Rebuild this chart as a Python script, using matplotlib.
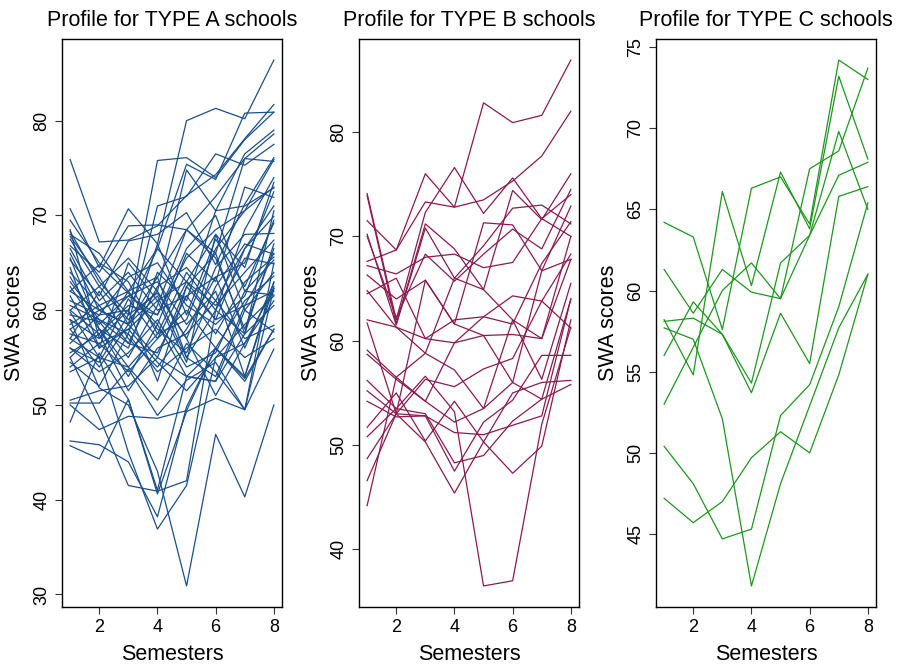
import matplotlib.pyplot as plt
import numpy as np

plt.rcParams['font.family'] = ['Liberation Sans', 'DejaVu Sans']

semesters = [1, 2, 3, 4, 5, 6, 7, 8]

# SWA scores per school (one row = one school, columns = semesters 1..8)
scores_a = [
    [75.9, 67.2, 67.4, 68.9, 72.1, 74.3, 78.1, 81.7],
    [70.7, 64.5, 70.7, 67.0, 80.0, 81.3, 80.2, 86.4],
    [68.3, 63.0, 59.5, 75.8, 76.1, 74.0, 78.0, 80.9],
    [68.0, 66.0, 62.0, 66.5, 75.4, 73.8, 80.8, 80.9],
    [67.5, 62.5, 65.5, 62.0, 74.8, 70.5, 76.5, 79.0],
    [66.8, 64.0, 68.9, 69.0, 68.5, 66.0, 76.0, 78.6],
    [66.0, 60.0, 58.5, 71.0, 72.0, 76.5, 75.3, 77.5],
    [65.3, 61.5, 67.3, 68.0, 70.3, 64.8, 71.2, 76.1],
    [64.0, 60.5, 62.0, 63.5, 68.5, 72.0, 76.0, 75.7],
    [63.5, 58.5, 61.5, 59.5, 65.5, 68.5, 70.5, 75.9],
    [68.5, 57.0, 60.0, 66.5, 63.0, 68.0, 64.5, 73.5],
    [62.5, 58.0, 56.0, 64.0, 61.0, 70.5, 71.0, 72.9],
    [62.0, 64.8, 61.8, 58.5, 66.0, 63.0, 73.0, 71.9],
    [61.5, 56.0, 65.0, 61.0, 63.0, 59.0, 66.5, 69.9],
    [60.5, 59.0, 57.5, 67.0, 59.5, 67.5, 62.5, 69.2],
    [60.0, 62.5, 59.0, 62.0, 57.0, 64.5, 68.0, 68.1],
    [59.8, 55.0, 61.2, 57.0, 63.0, 60.5, 64.0, 67.4],
    [59.5, 58.8, 55.0, 60.5, 68.5, 65.5, 58.0, 66.5],
    [59.0, 57.0, 62.0, 58.0, 55.5, 62.5, 67.0, 65.9],
    [58.5, 60.5, 56.5, 55.5, 61.5, 57.5, 63.0, 65.6],
    [58.0, 54.0, 58.5, 61.5, 55.0, 60.0, 65.5, 64.9],
    [57.5, 56.5, 53.5, 57.0, 60.0, 56.0, 61.0, 63.6],
    [57.0, 62.0, 57.0, 54.0, 58.0, 63.5, 56.0, 62.9],
    [56.5, 59.5, 60.0, 52.5, 62.5, 59.0, 60.5, 62.0],
    [56.0, 53.5, 55.5, 59.0, 54.0, 55.5, 62.0, 61.6],
    [55.5, 57.5, 51.5, 56.0, 57.5, 61.0, 57.0, 58.4],
    [55.0, 58.0, 53.0, 58.5, 53.0, 52.5, 60.0, 57.7],
    [54.5, 52.0, 57.5, 53.5, 56.0, 58.0, 55.0, 57.0],
    [53.5, 55.0, 54.0, 50.5, 56.5, 53.5, 49.5, 55.9],
    [50.5, 51.5, 52.0, 55.0, 53.0, 56.0, 52.5, 58.0],
    [50.2, 50.2, 53.8, 48.9, 52.6, 54.5, 49.5, 62.3],
    [48.2, 55.5, 50.6, 40.6, 49.3, 50.7, 49.5, 65.0],
    [46.2, 45.8, 44.0, 38.2, 49.8, 56.0, 53.0, 62.5],
    [45.7, 44.3, 50.6, 41.0, 53.0, 52.5, 57.5, 67.0],
    [50.0, 47.4, 48.8, 48.6, 49.4, 56.0, 52.8, 58.0],
    [55.0, 48.7, 41.5, 40.9, 42.0, 60.0, 57.5, 60.5],
    [59.0, 51.8, 50.0, 43.0, 30.9, 46.9, 40.3, 50.0],
    [57.0, 55.0, 45.0, 36.9, 41.5, 55.0, 56.5, 61.0],
    [64.5, 56.0, 58.0, 61.0, 54.5, 68.0, 60.0, 64.0],
    [67.8, 63.5, 58.5, 55.0, 62.5, 66.0, 57.5, 70.5],
    [61.0, 59.5, 63.5, 65.0, 60.5, 58.5, 61.5, 69.5],
    [60.0, 57.5, 60.5, 59.5, 66.5, 70.0, 62.0, 65.3],
    [63.0, 59.0, 56.5, 62.5, 64.5, 61.0, 66.5, 71.0],
    [58.0, 60.0, 61.5, 63.0, 58.5, 62.0, 53.0, 63.0],
    [65.5, 58.0, 54.0, 57.5, 59.0, 66.5, 70.5, 73.0],
    [66.5, 61.0, 64.0, 60.0, 61.5, 63.5, 65.0, 72.5],
    [56.0, 54.5, 59.5, 61.8, 57.0, 51.0, 56.5, 62.3],
    [69.5, 65.0, 63.0, 57.5, 64.0, 60.0, 68.5, 74.0],
    [54.0, 56.5, 58.0, 54.5, 51.5, 55.0, 58.5, 61.5],
    [62.0, 60.0, 58.5, 63.5, 55.0, 53.0, 60.5, 66.0],
]

scores_b = [
    [71.5, 68.7, 73.3, 72.8, 82.8, 80.9, 81.6, 86.9],
    [67.6, 68.7, 76.0, 72.8, 73.5, 75.3, 77.7, 82.0],
    [74.1, 62.0, 72.3, 76.6, 72.2, 75.6, 71.7, 70.0],
    [73.9, 61.6, 71.2, 68.8, 64.9, 74.4, 71.6, 76.0],
    [70.2, 61.5, 70.8, 66.0, 69.1, 72.7, 73.0, 71.2],
    [70.0, 62.2, 68.3, 65.7, 68.3, 70.7, 68.8, 74.5],
    [67.2, 66.4, 68.0, 68.3, 67.0, 67.5, 71.7, 74.0],
    [66.3, 64.0, 65.8, 61.6, 71.3, 71.1, 66.7, 72.9],
    [64.8, 61.3, 60.2, 62.0, 62.3, 61.6, 67.4, 71.4],
    [64.5, 66.0, 60.2, 59.8, 62.3, 64.3, 63.8, 68.3],
    [61.7, 53.0, 65.8, 61.6, 60.5, 60.6, 60.2, 67.8],
    [59.1, 56.5, 58.8, 57.2, 53.5, 62.0, 56.3, 65.5],
    [58.7, 56.3, 54.2, 59.8, 60.5, 56.0, 54.4, 64.0],
    [56.2, 53.5, 56.6, 53.2, 36.5, 37.0, 52.0, 61.3],
    [55.2, 53.0, 56.3, 55.6, 57.3, 58.3, 63.8, 61.2],
    [54.2, 52.7, 52.8, 47.5, 52.2, 54.3, 58.6, 58.6],
    [51.7, 55.0, 50.4, 54.2, 50.3, 55.0, 56.0, 56.2],
    [50.8, 53.5, 53.0, 48.3, 49.0, 52.3, 54.4, 55.8],
    [48.7, 53.0, 52.8, 51.2, 51.0, 51.9, 52.8, 64.0],
    [46.6, 53.0, 50.3, 45.4, 50.3, 47.3, 49.9, 62.0],
    [44.2, 56.5, 54.2, 52.2, 53.5, 56.0, 66.7, 67.8],
    [62.0, 61.3, 58.8, 66.0, 64.9, 62.0, 60.2, 70.0],
]

scores_c = [
    [64.2, 63.3, 57.6, 66.3, 67.0, 64.1, 74.2, 73.0],
    [58.2, 54.8, 66.1, 60.3, 67.3, 63.8, 73.2, 68.1],
    [61.3, 58.6, 61.3, 59.9, 59.5, 63.4, 69.8, 65.0],
    [53.0, 56.5, 60.0, 61.7, 59.5, 67.5, 68.6, 73.7],
    [58.1, 58.3, 57.3, 54.3, 61.7, 63.4, 67.1, 67.9],
    [56.0, 59.3, 57.3, 53.7, 58.6, 55.5, 65.8, 66.4],
    [57.7, 57.0, 52.1, 41.8, 48.1, 52.9, 57.7, 61.0],
    [50.4, 48.1, 44.7, 45.3, 52.3, 54.2, 59.0, 65.4],
    [47.2, 45.7, 47.0, 49.7, 51.3, 50.0, 54.8, 61.0],
]

panels = [
    ('Profile for TYPE A schools', scores_a, '#1a4f8b', [30, 40, 50, 60, 70, 80]),
    ('Profile for TYPE B schools', scores_b, '#8b1a4f', [40, 50, 60, 70, 80]),
    ('Profile for TYPE C schools', scores_c, '#1e961e', [45, 50, 55, 60, 65, 70, 75]),
]

fig = plt.figure(figsize=(8.97, 6.71), dpi=100)

for i, (titulo, dados, cor, yticks) in enumerate(panels):
    ax = fig.add_axes([0.0691 + i * 0.3311, 0.0954, 0.2453, 0.8465])
    for linha in dados:
        ax.plot(semesters, linha, color=cor, linewidth=0.9)
    ax.margins(x=0.04, y=0.04)
    ax.set_xticks([2, 4, 6, 8])
    ax.set_yticks(yticks)
    ax.tick_params(axis='both', labelsize=13, length=5, width=0.8, color='#333333')
    plt.setp(ax.get_yticklabels(), rotation=90, va='center')
    for sp in ax.spines.values():
        sp.set_linewidth(1.0)
    ax.set_title(titulo, fontsize=15.5, pad=9)
    ax.set_xlabel('Semesters', fontsize=15.5, labelpad=6)
    ax.set_ylabel('SWA scores', fontsize=15.5, labelpad=6)

fig.savefig('out.png', dpi=100)
